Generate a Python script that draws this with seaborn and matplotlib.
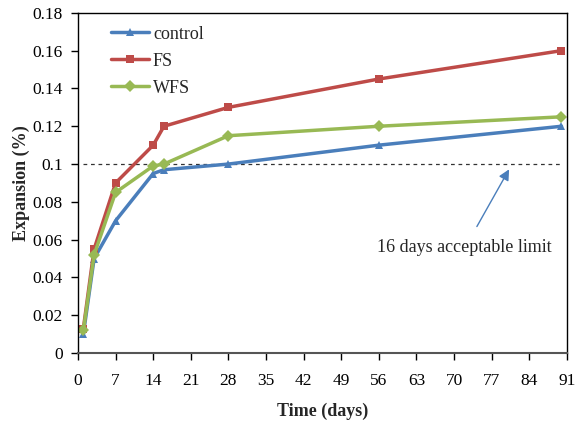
import matplotlib
matplotlib.use("Agg")
import matplotlib.pyplot as plt
import seaborn as sns
import pandas as pd

days = [1, 3, 7, 14, 16, 28, 56, 90]
control = [0.010, 0.050, 0.070, 0.095, 0.097, 0.100, 0.110, 0.120]
fs = [0.013, 0.055, 0.090, 0.110, 0.120, 0.130, 0.145, 0.160]
wfs = [0.012, 0.052, 0.085, 0.099, 0.100, 0.115, 0.120, 0.125]
x_ticks = [0, 7, 14, 21, 28, 35, 42, 49, 56, 63, 70, 77, 84, 91]
y_ticks = [0, 0.02, 0.04, 0.06, 0.08, 0.1, 0.12, 0.14, 0.16, 0.18]
y_labels = ["0", "0.02", "0.04", "0.06", "0.08", "0.1", "0.12", "0.14", "0.16", "0.18"]
limit = 0.1

sns.set_style("white")
plt.rcParams['font.family'] = ['Liberation Serif', 'DejaVu Serif']

df = pd.DataFrame({"days": days * 3,
                   "exp": control + fs + wfs,
                   "series": ["control"] * 8 + ["FS"] * 8 + ["WFS"] * 8})

fig = plt.figure(figsize=(5.82, 4.28), dpi=100)
ax = fig.add_axes([0.134, 0.175, 0.840, 0.795])

palette = {"control": "#4a7ebb", "FS": "#be4b48", "WFS": "#98b954"}
markers = {"control": "^", "FS": "s", "WFS": "D"}
sns.lineplot(data=df, x="days", y="exp", hue="series", style="series",
             palette=palette, markers=markers, dashes=False, linewidth=2.5,
             markersize=6, markeredgewidth=0, ax=ax)

ax.plot([1, 90], [limit, limit], color="#333333", linestyle=(0, (3, 3)), linewidth=0.9, zorder=0)

ax.annotate("16 days acceptable limit", xy=(80.5, 0.0985), xytext=(72, 0.0556),
            ha="center", va="center", fontsize=13,
            arrowprops=dict(arrowstyle="-|>", color="#4a7ebb", lw=1, mutation_scale=16, shrinkA=8))

ax.set_xlim(0, 91)
ax.set_ylim(0, 0.18)
ax.set_xticks(x_ticks)
ax.set_yticks(y_ticks)
ax.set_yticklabels(y_labels)
ax.tick_params(axis="both", direction="out", length=5, width=1, labelsize=12.5,
               bottom=True, left=True, colors="black")
ax.tick_params(axis="x", pad=9)
ax.tick_params(axis="y", pad=6)
ax.set_xlabel("Time (days)", fontsize=13, fontweight="bold", labelpad=10)
ax.set_ylabel("Expansion (%)", fontsize=13, fontweight="bold", labelpad=2)
for s in ax.spines.values():
    s.set_color("black")
    s.set_linewidth(1)
ax.spines["bottom"].set_color("#555555")
ax.spines["bottom"].set_linewidth(1.5)

leg = ax.legend(loc="upper left", frameon=False, fontsize=13, bbox_to_anchor=(0.035, 1.01),
                handlelength=2.1, labelspacing=0.55, handletextpad=0.2)
fig.savefig("out.png", dpi=100)
